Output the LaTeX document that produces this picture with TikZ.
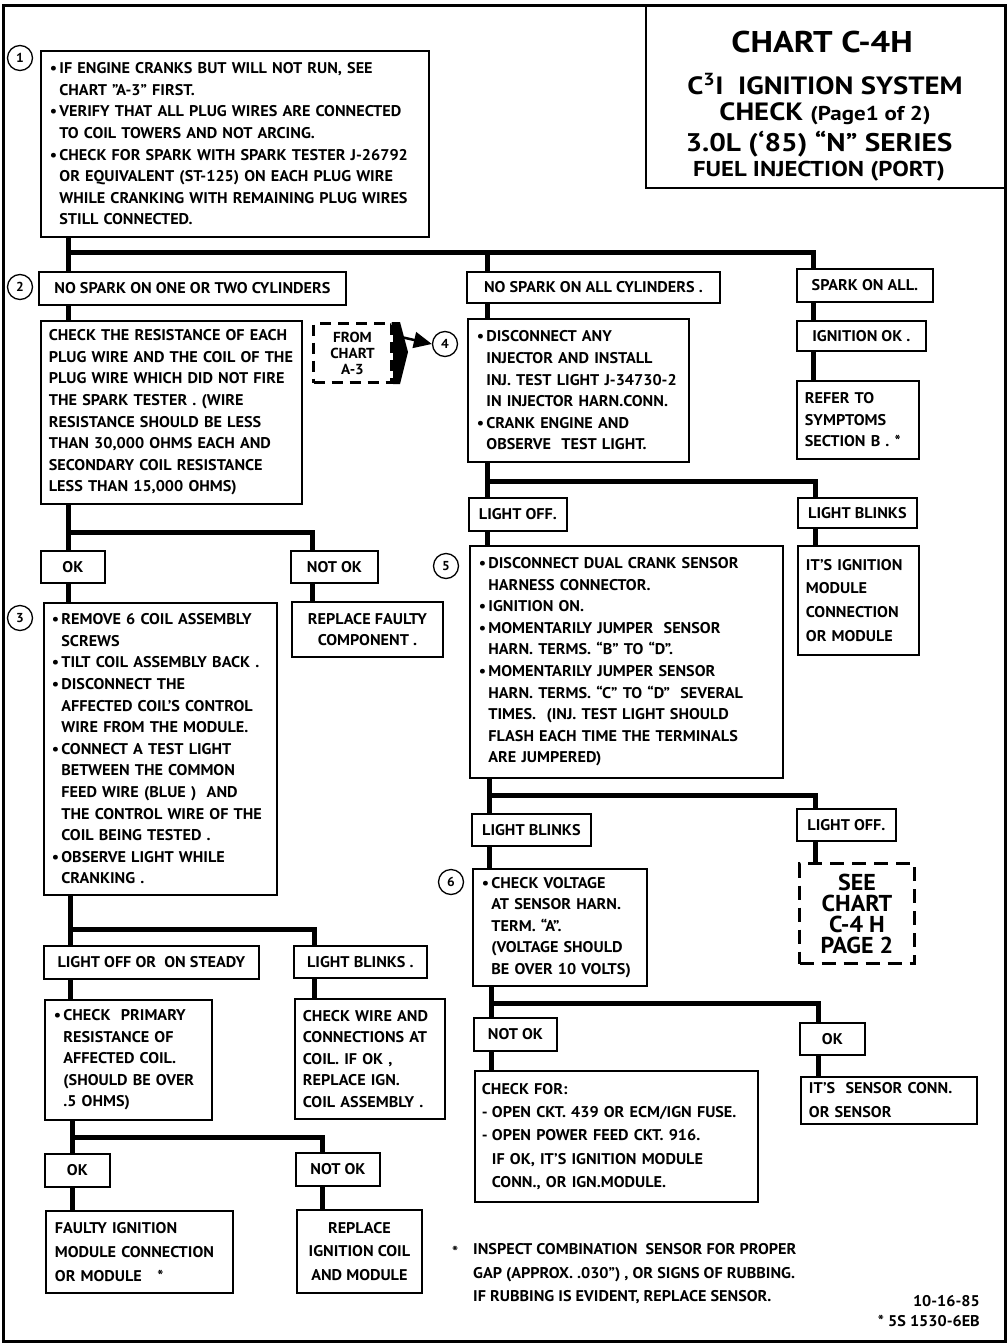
\documentclass[tikz,border=0pt]{standalone}
\usepackage{fontspec}
\setmainfont{PT Sans}[FakeStretch=1.045]
\newfontfamily\ttlfont{PT Sans}[FakeStretch=1.15]
\usetikzlibrary{arrows.meta}
\newcommand\txt{\fontsize{15.5}{21.6}\selectfont\bfseries}
\newcommand\txtw{\fontsize{15.5}{23.8}\selectfont\bfseries}
\newcommand\bul{\makebox[9.5pt][l]{\textbullet}}
\newcommand\ind{\hspace*{9.5pt}}
\newcommand\dsh{\makebox[10pt][l]{-}}
\tikzset{
  box/.style={draw, line width=1.8pt, anchor=north west, inner xsep=9pt, inner ysep=2pt, align=left, font=\txt},
  lbl/.style={draw, line width=1.8pt, anchor=north west, inner sep=2pt, align=center, font=\txt},
  conn/.style={line width=5pt},
  num/.style={draw, circle, line width=1.3pt, minimum size=25pt, inner sep=0pt, font=\fontsize{13}{13}\selectfont\bfseries},
  dbox/.style={draw, line width=3pt, dash pattern=on 11pt off 7pt, anchor=north west, inner sep=1pt, align=center},
  ttl/.style={inner sep=0pt},
}
\begin{document}
\begin{tikzpicture}[x=1pt,y=-1pt]
\useasboundingbox (0,0) rectangle (1008,1344);
\draw[line width=3pt] (3,5) rectangle (1005,1341);
% title
\node[draw, line width=2pt, anchor=north west, minimum width=360, minimum height=182, inner sep=0pt] (title) at (645,5) {};
\node[ttl, font=\fontsize{30}{30}\selectfont\ttlfont\bfseries] (t1) at (822,42) {CHART C-4H};
\node[ttl, font=\fontsize{25}{25}\selectfont\ttlfont\bfseries] (t2) at (825,84) {C\textsuperscript{3}I\ \ IGNITION SYSTEM};
\node[ttl, font=\fontsize{25}{25}\selectfont\ttlfont\bfseries] (t3) at (825,114) {CHECK {\fontsize{20}{20}\selectfont (Page1 of 2)}};
\node[ttl, font=\fontsize{25.5}{25.5}\selectfont\ttlfont\bfseries] (t4) at (819,144) {3.0L (‘85) “N” SERIES};
\node[ttl, font=\fontsize{21.5}{21.5}\selectfont\ttlfont\bfseries] (t5) at (819,171) {FUEL INJECTION (PORT)};
% circles
\node[num] (c1) at (20,58) {1};
\node[num] (c2) at (20,287) {2};
\node[num] (c3) at (20,618) {3};
\node[num] (c4) at (445,344) {4};
\node[num] (c5) at (446,566) {5};
\node[num] (c6) at (451,882) {6};
% left column
\node[box, minimum height=186, text width=370] (b1) at (40,50) {%
\bul IF ENGINE CRANKS BUT WILL NOT RUN, SEE\\
\ind CHART "A-3" FIRST.\\
\bul VERIFY THAT ALL PLUG WIRES ARE CONNECTED\\
\ind TO COIL TOWERS AND NOT ARCING.\\
\bul CHECK FOR SPARK WITH SPARK TESTER J-26792\\
\ind OR EQUIVALENT (ST-125) ON EACH PLUG WIRE\\
\ind \mbox{WHILE CRANKING WITH REMAINING PLUG WIRES}\\
\ind STILL CONNECTED.};
\node[lbl, minimum width=307, minimum height=33] (b2) at (38,271) {NO SPARK ON ONE OR TWO CYLINDERS};
\node[box, inner xsep=8pt, minimum height=183, text width=245] (cr) at (40,320) {%
\mbox{CHECK THE RESISTANCE OF EACH}\\
\mbox{PLUG WIRE AND THE COIL OF THE}\\
\mbox{PLUG WIRE WHICH DID NOT FIRE}\\
\mbox{THE SPARK TESTER . (WIRE}\\
\mbox{RESISTANCE SHOULD BE LESS}\\
\mbox{THAN 30,000 OHMS EACH AND}\\
\mbox{SECONDARY COIL RESISTANCE}\\
\mbox{LESS THAN 15,000 OHMS)}};
\node[lbl, minimum width=64, minimum height=32] (ok1) at (40,550) {OK};
\node[lbl, minimum width=87, minimum height=32] (nok1) at (290,550) {NOT OK};
\node[lbl, minimum width=151, minimum height=55] (repl) at (291,601) {REPLACE FAULTY\\COMPONENT .};
\node[box, inner xsep=8pt, minimum height=292, text width=217] (b3) at (43,602) {%
\bul REMOVE 6 COIL ASSEMBLY\\
\ind SCREWS\\
\bul TILT COIL ASSEMBLY BACK .\\
\bul DISCONNECT THE\\
\ind AFFECTED COIL’S CONTROL\\
\ind WIRE FROM THE MODULE.\\
\bul CONNECT A TEST LIGHT\\
\ind BETWEEN THE COMMON\\
\ind FEED WIRE (BLUE )\ \ AND\\
\ind \mbox{THE CONTROL WIRE OF THE}\\
\ind COIL BEING TESTED .\\
\bul OBSERVE LIGHT WHILE\\
\ind CRANKING .};
\node[lbl, minimum width=215, minimum height=33] (lo) at (43,945) {LIGHT OFF OR\ \ ON STEADY};
\node[lbl, minimum width=133, minimum height=32] (lb1) at (293,945) {LIGHT BLINKS .};
\node[box, minimum height=120, text width=149] (cp) at (44,999) {%
\bul CHECK\ \ PRIMARY\\
\ind RESISTANCE OF\\
\ind AFFECTED COIL.\\
\ind \mbox{(SHOULD BE OVER}\\
\ind .5 OHMS)};
\node[box, inner xsep=8pt, minimum height=120, text width=134] (cw) at (294,998) {%
CHECK WIRE AND\\
\mbox{CONNECTIONS AT}\\
COIL. IF OK ,\\
REPLACE IGN.\\
\mbox{COIL ASSEMBLY .}};
\node[lbl, minimum width=65, minimum height=33] (ok2) at (44,1153) {OK};
\node[lbl, minimum width=84, minimum height=33] (nok2) at (295,1152) {NOT OK};
\node[box, font=\txtw, minimum height=82, text width=169] (faulty) at (45,1210) {%
FAULTY IGNITION\\
\mbox{MODULE CONNECTION}\\
OR MODULE\ \ \ *};
\node[lbl, font=\txtw, minimum width=125, minimum height=83] (ric) at (296,1209) {REPLACE\\IGNITION COIL\\AND MODULE};
% from chart A-3
\node[dbox, font=\fontsize{14.5}{16}\selectfont\bfseries, minimum width=78, minimum height=59] (from) at (312,322) {FROM\\CHART\\A-3};
\fill (from.north east) -- ++(7,0) -- (408,352) -- ([xshift=7]from.south east) -- (from.south east) -- cycle;
\draw[line width=2.5pt, -{Triangle[length=18pt,width=16pt]}] (401,337) -- (c4.west);
% middle column
\node[lbl, minimum width=253, minimum height=31] (nsall) at (466,271) {NO\ SPARK ON ALL CYLINDERS .};
\node[box, minimum height=143, text width=203] (b4) at (467,318) {%
\bul DISCONNECT ANY\\
\ind INJECTOR AND INSTALL\\
\ind \mbox{INJ. TEST LIGHT J-34730-2}\\
\ind \mbox{IN INJECTOR HARN.CONN.}\\
\bul CRANK ENGINE AND\\
\ind OBSERVE\ \ TEST LIGHT.};
\node[lbl, minimum width=98, minimum height=33] (loff) at (468,497) {LIGHT OFF.};
\node[box, minimum height=232, text width=295] (b5) at (469,545) {%
\bul DISCONNECT DUAL CRANK SENSOR\\
\ind HARNESS CONNECTOR.\\
\bul IGNITION ON.\\
\bul MOMENTARILY JUMPER\ \ SENSOR\\
\ind HARN. TERMS. “B” TO “D”.\\
\bul MOMENTARILY JUMPER SENSOR\\
\ind \mbox{HARN. TERMS. “C” TO “D”\ \ SEVERAL}\\
\ind \mbox{TIMES.\ \ (INJ. TEST LIGHT SHOULD}\\
\ind \mbox{FLASH EACH TIME THE TERMINALS}\\
\ind ARE JUMPERED)};
\node[lbl, minimum width=119, minimum height=32] (lb2) at (471,813) {LIGHT BLINKS};
\node[box, minimum height=117, text width=156] (b6) at (472,868) {%
\bul CHECK VOLTAGE\\
\ind AT SENSOR HARN.\\
\ind TERM. “A”.\\
\ind \mbox{(VOLTAGE SHOULD}\\
\ind \mbox{BE OVER 10 VOLTS)}};
\node[lbl, minimum width=83, minimum height=33] (nok3) at (473,1017) {NOT OK};
\node[box, inner xsep=7pt, font=\fontsize{15.5}{23.3}\selectfont\bfseries, minimum height=131, text width=269] (chk) at (474,1070) {%
CHECK FOR:\\
\dsh OPEN CKT. 439 OR ECM/IGN FUSE.\\
\dsh OPEN POWER FEED CKT. 916.\\
\hspace*{10pt}IF OK, IT’S IGNITION MODULE\\
\hspace*{10pt}CONN., OR IGN.MODULE.};
% right column
\node[lbl, minimum width=136, minimum height=33] (spall) at (796,268) {SPARK ON ALL.};
\node[lbl, minimum width=129, minimum height=30] (ignok) at (796,320) {IGNITION OK .};
\node[box, inner xsep=8pt, minimum height=78, text width=106] (refer) at (796,380) {%
REFER TO\\
SYMPTOMS\\
\mbox{SECTION B . *}};
\node[lbl, minimum width=119, minimum height=30] (lbr) at (797,497) {LIGHT BLINKS};
\node[box, inner xsep=8pt, font=\txtw, minimum height=109, text width=105] (its) at (797,545) {%
\mbox{IT’S IGNITION}\\
MODULE\\
\mbox{CONNECTION}\\
\mbox{OR MODULE}};
\node[lbl, minimum width=99, minimum height=32] (loff2) at (796,808) {LIGHT OFF.};
\node[dbox, line width=3pt, dash pattern=on 14pt off 8pt, font=\fontsize{23}{21}\selectfont\bfseries, minimum width=115, minimum height=100] (see) at (798,862) {SEE\\CHART\\C-4 H\\PAGE 2};
\node[lbl, minimum width=65, minimum height=32] (ok3) at (799,1022) {OK};
\node[box, inner xsep=8pt, font=\txtw, minimum height=47, text width=160] (sens) at (800,1076) {%
\mbox{IT’S\ \ SENSOR CONN.}\\
OR SENSOR};
% footnote
\node[anchor=west, inner sep=0pt, font=\txt] (star) at (452,1252) {*};
\node[anchor=north west, inner sep=0pt, align=left, font=\txtw] (foot) at (473,1243) {%
INSPECT COMBINATION\ \ SENSOR FOR PROPER\\
GAP (APPROX. .030”) , OR SIGNS OF RUBBING.\\
IF RUBBING IS EVIDENT, REPLACE SENSOR.};
\node[anchor=east, inner sep=0pt, font=\txt] (date) at (980,1301) {10-16-85};
\node[anchor=east, inner sep=0pt, font=\txt] (ref) at (980,1321) {* 5S 1530-6EB};
% connectors
\coordinate (j1) at (68,252);
\coordinate (j1m) at (487,252);
\coordinate (j1r) at (813,252);
\draw[conn] (j1 |- b1.south) -- (j1 |- b2.north);
\draw[conn] (j1) -- (j1r) -- (j1r |- spall.north);
\draw[conn] (j1m) -- (j1m |- nsall.north);
\draw[conn] (j1r |- spall.south) -- (j1r |- ignok.north);
\draw[conn] (j1r |- ignok.south) -- (j1r |- refer.north);
\draw[conn] (j1 |- b2.south) -- (j1 |- cr.north);
\coordinate (j2) at (68,532);
\coordinate (j2r) at (312,532);
\draw[conn] (j2 |- cr.south) -- (j2 |- ok1.north);
\draw[conn] (j2) -- (j2r) -- (j2r |- nok1.north);
\draw[conn] (j2 |- ok1.south) -- (j2 |- b3.north);
\draw[conn] (j2r |- nok1.south) -- (j2r |- repl.north);
\coordinate (j3) at (70,929);
\coordinate (j3r) at (314,929);
\draw[conn] (j3 |- b3.south) -- (j3 |- lo.north);
\draw[conn] (j3) -- (j3r) -- (j3r |- lb1.north);
\draw[conn] (j3 |- lo.south) -- (j3 |- cp.north);
\draw[conn] (j3r |- lb1.south) -- (j3r |- cw.north);
\coordinate (j4) at (72,1137);
\coordinate (j4r) at (322,1137);
\draw[conn] (j4 |- cp.south) -- (j4 |- ok2.north);
\draw[conn] (j4) -- (j4r) -- (j4r |- nok2.north);
\draw[conn] (j4 |- ok2.south) -- (j4 |- faulty.north);
\draw[conn] (j4r |- nok2.south) -- (j4r |- ric.north);
\draw[conn] (j1m |- nsall.south) -- (j1m |- b4.north);
\coordinate (j5) at (487,481);
\coordinate (j5r) at (815,481);
\draw[conn] (j5 |- b4.south) -- (j5 |- loff.north);
\draw[conn] (j5) -- (j5r) -- (j5r |- lbr.north);
\draw[conn] (j5 |- loff.south) -- (j5 |- b5.north);
\draw[conn] (j5r |- lbr.south) -- (j5r |- its.north);
\coordinate (j6) at (489,795);
\coordinate (j6r) at (815,795);
\draw[conn] (j6 |- b5.south) -- (j6 |- lb2.north);
\draw[conn] (j6) -- (j6r) -- (j6r |- loff2.north);
\draw[conn] (j6 |- lb2.south) -- (j6 |- b6.north);
\draw[conn] (j6r |- loff2.south) -- (j6r |- see.north);
\coordinate (j7) at (491,1003);
\coordinate (j7r) at (818,1003);
\draw[conn] (j7 |- b6.south) -- (j7 |- nok3.north);
\draw[conn] (j7) -- (j7r) -- (j7r |- ok3.north);
\draw[conn] (j7 |- nok3.south) -- (j7 |- chk.north);
\draw[conn] (j7r |- ok3.south) -- (j7r |- sens.north);
\end{tikzpicture}
\end{document}
